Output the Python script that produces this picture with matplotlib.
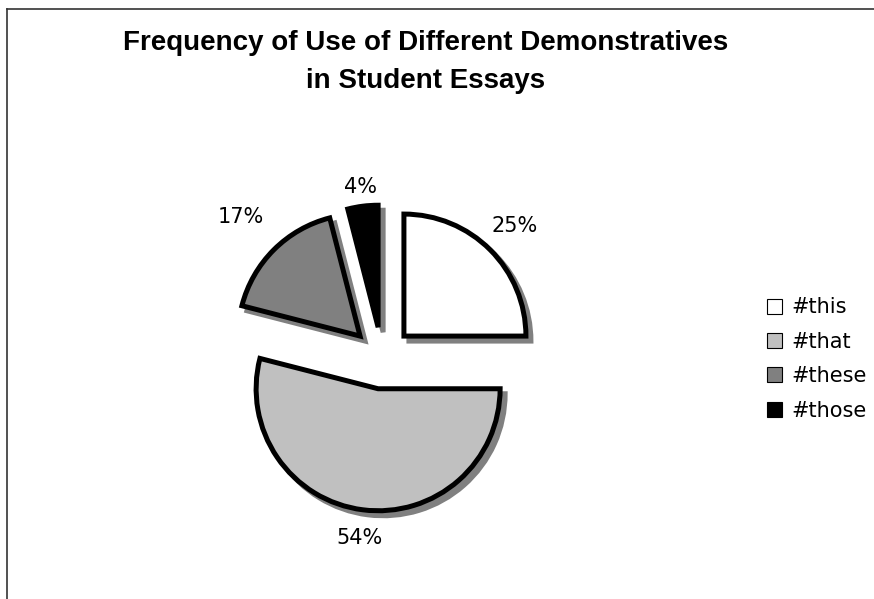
import numpy as np
import matplotlib.pyplot as plt
from matplotlib.lines import Line2D

labels = ["#this", "#that", "#these", "#those"]
shares = [25, 54, 17, 4]
colors = ["#FFFFFF", "#C0C0C0", "#808080", "#000000"]

W, H = 874, 599
fig = plt.figure(figsize=(W / 100, H / 100), dpi=100)
ax = fig.add_axes([0, 0, 1, 1])

cx, cy, R = 382, H - 358, 122
explode = [31] * len(shares)   # pie explode is in data units (pixels here)
label_dist = [1.28, 1.23, 1.38, 1.16]

# shadow first, shifted down-right
ax.pie(shares, explode=explode, colors=["#808080"] * 4, startangle=90,
       counterclock=False, radius=R, center=(cx + 5, cy - 5),
       wedgeprops=dict(edgecolor="#808080", linewidth=3.6), frame=True)

wedges, _, autotexts = ax.pie(
    shares, explode=explode, colors=colors, startangle=90,
    counterclock=False, radius=R, center=(cx, cy),
    autopct="%1.0f%%", pctdistance=1.22,
    wedgeprops=dict(edgecolor="black", linewidth=3.6, joinstyle="miter"),
    textprops=dict(fontsize=15, family="DejaVu Sans"), frame=True)

# push each percentage label out a bit differently, like the original
for w, t, d in zip(wedges, autotexts, label_dist):
    mid = np.deg2rad((w.theta1 + w.theta2) / 2)
    t.set_position((w.center[0] + d * R * np.cos(mid), w.center[1] + d * R * np.sin(mid)))

ax.set_xlim(0, W)
ax.set_ylim(0, H)
ax.axis("off")

leg_handles = [plt.Rectangle((0, 0), 1, 1, facecolor=c, edgecolor="black", linewidth=0.8)
               for c in colors]
ax.legend(leg_handles, labels, loc="center left", bbox_to_anchor=(767 / W, 1 - 359 / H),
          bbox_transform=fig.transFigure, frameon=False,
          prop=dict(family="DejaVu Sans", size=15), borderpad=0, borderaxespad=0,
          handlelength=0.72, handleheight=0.72, handletextpad=0.45, labelspacing=0.69)

fig.text(426 / W, 1 - 62 / H, "Frequency of Use of Different Demonstratives\nin Student Essays",
         ha="center", va="center", fontsize=20, fontweight="bold",
         family="Liberation Sans", linespacing=1.6)

# chart border (left and top edges visible)
fig.add_artist(Line2D([7 / W, 7 / W], [0, 1 - 9 / H], transform=fig.transFigure,
                      color="#333333", linewidth=1.2))
fig.add_artist(Line2D([7 / W, 1], [1 - 9 / H, 1 - 9 / H], transform=fig.transFigure,
                      color="#333333", linewidth=1.2))

fig.savefig("out.png", dpi=100, facecolor="white")
